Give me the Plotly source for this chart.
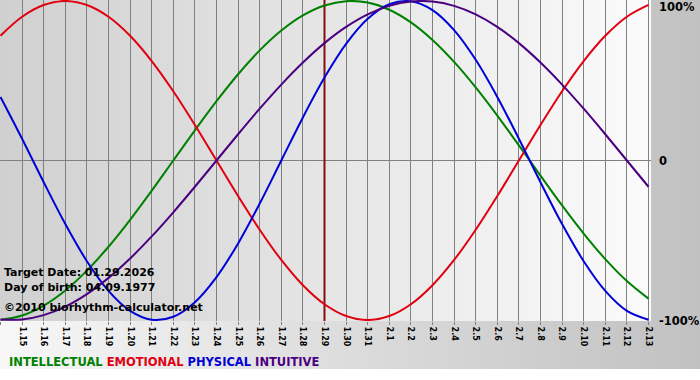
import zlib, struct, base64
import plotly.graph_objects as go

# ---- data ----
dates = ["1.14", "1.15", "1.16", "1.17", "1.18", "1.19", "1.20", "1.21", "1.22", "1.23",
         "1.24", "1.25", "1.26", "1.27", "1.28", "1.29", "1.30", "1.31", "2.1", "2.2",
         "2.3", "2.4", "2.5", "2.6", "2.7", "2.8", "2.9", "2.10", "2.11", "2.12", "2.13"]
target_date = "1.29"

intellectual = [-0.9989, -0.9718, -0.9096, -0.8146, -0.6901, -0.5406, -0.3717, -0.1893, 0.0,
                0.1893, 0.3717, 0.5406, 0.6901, 0.8146, 0.9096, 0.9718, 0.9989, 0.9898, 0.9450,
                0.8660, 0.7557, 0.6182, 0.4582, 0.2817, 0.0951, -0.0951, -0.2817, -0.4582,
                -0.6182, -0.7557, -0.8660]
emotional = [0.7818, 0.9010, 0.9749, 1.0, 0.9749, 0.9010, 0.7818, 0.6235, 0.4339, 0.2225, 0.0,
             -0.2225, -0.4339, -0.6235, -0.7818, -0.9010, -0.9749, -1.0, -0.9749, -0.9010,
             -0.7818, -0.6235, -0.4339, -0.2225, 0.0, 0.2225, 0.4339, 0.6235, 0.7818, 0.9010,
             0.9749]
physical = [0.3984, 0.1362, -0.1362, -0.3984, -0.6311, -0.8170, -0.9423, -0.9977, -0.9791,
            -0.8879, -0.7308, -0.5196, -0.2698, 0.0, 0.2698, 0.5196, 0.7308, 0.8879, 0.9791,
            0.9977, 0.9423, 0.8170, 0.6311, 0.3984, 0.1362, -0.1362, -0.3984, -0.6311,
            -0.8170, -0.9423, -0.9977]
intuitive = [-0.9966, -0.9966, -0.9694, -0.9158, -0.8372, -0.7357, -0.6142, -0.4759, -0.3247,
             -0.1646, 0.0, 0.1646, 0.3247, 0.4759, 0.6142, 0.7357, 0.8372, 0.9158, 0.9694,
             0.9966, 0.9966, 0.9694, 0.9158, 0.8372, 0.7357, 0.6142, 0.4759, 0.3247, 0.1646,
             0.0, -0.1646]

series_names = ["INTELLECTUAL", "EMOTIONAL", "PHYSICAL", "INTUITIVE"]
series_colors = ["#008000", "#e00010", "#0000d8", "#4b0082"]
y_tick_labels = ["100%", "0", "-100%"]
info_lines = ["Target Date: 01.29.2026", "Day of birth: 04.09.1977", "\u00a92010 biorhythm-calculator.net"]

# ---- background gradient image ----
W, H = 700, 380
PLOT_R, PLOT_B, BG_B = 651, 321, 369
rows = []
for yy in range(H):
    row = bytearray([0])
    for xx in range(W):
        if yy >= BG_B:
            v = 255
        elif xx < PLOT_R and yy < PLOT_B:
            v = round(208 + (251 - 208) * xx / (PLOT_R - 1))
        else:
            v = round(247 + (193 - 247) * xx / (W - 1))
        row.append(v)
    rows.append(bytes(row))
raw = b"".join(rows)

def chunk(t, d):
    return struct.pack(">I", len(d)) + t + d + struct.pack(">I", zlib.crc32(t + d) & 0xffffffff)

png = (b"\x89PNG\r\n\x1a\n" + chunk(b"IHDR", struct.pack(">IIBBBBB", W, H, 8, 0, 0, 0, 0))
       + chunk(b"IDAT", zlib.compress(raw, 9)) + chunk(b"IEND", b""))
bg_src = "data:image/png;base64," + base64.b64encode(png).decode()

# ---- figure ----
xs = list(range(len(dates)))
fig = go.Figure()
for name, vals, col in zip(series_names, [intellectual, emotional, physical, intuitive], series_colors):
    fig.add_trace(go.Scatter(x=xs, y=vals, mode="lines", name=name,
                             line=dict(color=col, width=2, shape="spline", smoothing=1),
                             hoverinfo="skip", cliponaxis=False))

ti = dates.index(target_date)
fig.add_shape(type="line", xref="x", yref="y", x0=ti, x1=ti, y0=-1.01, y1=1.01,
              line=dict(color="#801010", width=2), layer="between")

FONT = "DejaVu Sans"
ann = []
# right side y labels
for lab, yv, sh in zip(y_tick_labels, [1, 0, -1], [-6, 0, -1]):
    ann.append(dict(text=lab, x=657 / W, xref="paper", xanchor="left", y=yv, yref="y",
                    yanchor="middle", yshift=sh, showarrow=False,
                    font=dict(family=FONT, size=11.5, color="#000000", weight="bold")))
# info lines
for txt, py in zip(info_lines, [272, 287, 307]):
    ann.append(dict(text=txt, x=2 / W, xref="paper", xanchor="left", y=1 - py / H, yref="paper",
                    yanchor="middle", showarrow=False,
                    font=dict(family=FONT, size=11, color="#000000", weight="bold")))
# legend text
leg = " ".join(f"<span style='color:{c}'>{n}</span>" for n, c in zip(series_names, series_colors))
ann.append(dict(text=leg, x=7 / W, xref="paper", xanchor="left", y=1 - 362 / H, yref="paper",
                yanchor="middle", showarrow=False,
                font=dict(family=FONT, size=11.5, weight="bold")))

fig.update_layout(
    width=W, height=H, margin=dict(l=0, r=0, t=0, b=0, pad=0, autoexpand=False),
    paper_bgcolor="#ffffff", plot_bgcolor="rgba(0,0,0,0)",
    showlegend=False,
    images=[dict(source=bg_src, xref="paper", yref="paper", x=0, y=1, sizex=1, sizey=1,
                 sizing="stretch", xanchor="left", yanchor="top", layer="below")],
    xaxis=dict(domain=[0, PLOT_R / W], range=[-0.023, 30.116], tickmode="array",
               tickvals=xs, ticktext=dates, tickangle=90, ticks="outside", ticklen=3,
               tickcolor="#808080", showgrid=True, gridcolor="#808080", gridwidth=1,
               zeroline=False, showline=False, fixedrange=True, automargin=False,
               tickfont=dict(family=FONT, size=8, color="#000000", weight="bold")),
    yaxis=dict(domain=[1 - PLOT_B / H, 1], range=[-1.006, 1.006], showticklabels=False,
               showgrid=False, zeroline=True, zerolinecolor="#808080", zerolinewidth=1,
               fixedrange=True, automargin=False),
    annotations=ann,
)
fig.write_html("out.html", config={"displayModeBar": False},
               post_script="document.body.style.margin='0';document.body.style.overflow='hidden';")
